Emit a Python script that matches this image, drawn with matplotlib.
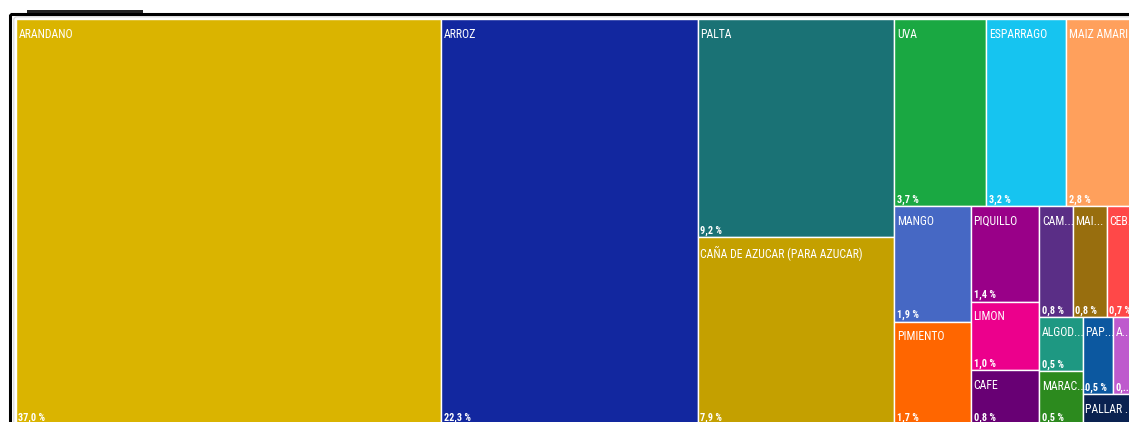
import matplotlib
matplotlib.use("Agg")
import matplotlib.pyplot as plt
import matplotlib.font_manager as fm
from matplotlib.patches import Rectangle, FancyBboxPatch

# share of total (%) per crop, in the order the treemap lays them out
categories = ["ARANDANO", "ARROZ", "PALTA", "CAÑA DE AZUCAR (PARA AZUCAR)", "UVA",
              "ESPARRAGO", "MAIZ AMARI...", "MANGO", "PIMIENTO", "PIQUILLO", "LIMON",
              "CAFE", "CAM...", "MAI...", "CEB...", "ALGOD...", "MARAC...", "PAP...",
              "A...", "PALLAR ..."]
shares = [37.0, 22.3, 9.2, 7.9, 3.7, 3.2, 2.8, 1.9, 1.7, 1.4, 1.0,
          0.8, 0.8, 0.8, 0.7, 0.5, 0.5, 0.5, 0.38, 0.35]
colors = ["#DAB400", "#12279F", "#1A7275", "#C4A000", "#1AA842",
          "#16C4F0", "#FFA05C", "#4668C4", "#FF6600", "#990088", "#EC008C",
          "#680074", "#5A2E86", "#986E0E", "#FF4848", "#1E9882", "#2C8A1E", "#0C58A0",
          "#BE5ACD", "#0A2250"]

PHI = (1 + 5 ** 0.5) / 2


def squarify(vals, w, h, ratio=PHI):
    # d3-style squarified treemap, returns (x, y, w, h) per value
    rects = []
    x0, y0, x1, y1 = 0.0, 0.0, w, h
    value = sum(vals)
    i0 = i1 = 0
    n = len(vals)
    while i0 < n:
        dx, dy = x1 - x0, y1 - y0
        sum_v = vals[i1]
        i1 += 1
        min_v = max_v = sum_v
        alpha = max(dy / dx, dx / dy) / (value * ratio)
        beta = sum_v * sum_v * alpha
        min_ratio = max(max_v / beta, beta / min_v)
        while i1 < n:
            v = vals[i1]
            s = sum_v + v
            mn, mx = min(min_v, v), max(max_v, v)
            beta = s * s * alpha
            new_ratio = max(mx / beta, beta / mn)
            if new_ratio > min_ratio:
                break
            sum_v, min_v, max_v, min_ratio = s, mn, mx, new_ratio
            i1 += 1
        row = vals[i0:i1]
        if dx < dy:
            yb = y0 + dy * sum_v / value if i1 < n else y1
            xx = x0
            for v in row:
                rw = (x1 - x0) * v / sum_v
                rects.append((xx, y0, rw, yb - y0))
                xx += rw
            y0 = yb
        else:
            xb = x0 + dx * sum_v / value if i1 < n else x1
            yy = y0
            for v in row:
                rh = (y1 - y0) * v / sum_v
                rects.append((x0, yy, xb - x0, rh))
                yy += rh
            x0 = xb
        value -= sum_v
        i0 = i1
    return rects


W, H = 1129, 422
fig = plt.figure(figsize=(W / 100, H / 100), dpi=100)
ax = fig.add_axes([0, 0, 1, 1])
ax.set_xlim(0, W)
ax.set_ylim(H, 0)
ax.axis("off")

# pick a narrow font if one is around (the screenshot is squeezed sideways)
available = {f.name for f in fm.fontManager.ttflist}
family = "Liberation Sans"
for cand in ["Liberation Sans Narrow", "Roboto Condensed", "Open Sans Condensed",
             "DejaVu Sans Condensed", "Liberation Sans"]:
    if cand in available:
        family = cand
        break

renderer = fig.canvas.get_renderer()


def text_width(s, size, weight="normal"):
    t = ax.text(0, 0, s, fontsize=size, family=family, fontweight=weight)
    w = t.get_window_extent(renderer).width
    t.remove()
    return w


name_size = min(11, 10 * 55 / text_width("ARANDANO", 10))
pct_size = min(10, 10 * 27 / text_width("37,0 %", 10, "bold"))

# panel frame
ax.add_patch(Rectangle((9.5, 13.5), 1300, 600, fill=False, ec="black", lw=2.2))
ax.add_patch(Rectangle((27, 10.3), 116, 3, fc="#222222", lw=0))
ax.add_patch(FancyBboxPatch((13.8, 16.8), 1300, 600, boxstyle="round,pad=0,rounding_size=3",
                            fill=False, ec="#d4d4d4", lw=0.8))

# treemap laid out in unsqueezed space, then squeezed back horizontally
stretch = 1.6
left, top, tw, th = 16, 19, 1120, 406
rects = squarify(shares, tw * stretch, th)

for (rx, ry, rw, rh), name, share, col in zip(rects, categories, shares, colors):
    x = left + rx / stretch
    y = top + ry
    w = rw / stretch
    ax.add_patch(Rectangle((x, y), w, rh, fc=col, ec="white", lw=1.0))
    ax.text(x + 2.5, y + 8.5, name, color="white", fontsize=name_size, family=family,
            va="top", ha="left")
    # too short for a second label line: Power BI drops the percentage
    if rh < 40:
        continue
    pct = f"{share:.1f}".replace(".", ",") + " %"
    maxw = w - 6
    if text_width(pct, pct_size, "bold") > maxw:
        for k in range(len(pct) - 1, 0, -1):
            cand = pct[:k].rstrip() + "..."
            if text_width(cand, pct_size, "bold") <= maxw:
                pct = cand
                break
    ax.text(x + 2.5, y + rh - 4, pct, color="white", fontsize=pct_size, family=family,
            fontweight="bold", va="baseline", ha="left")

fig.savefig("out.png", dpi=100, facecolor="white")
